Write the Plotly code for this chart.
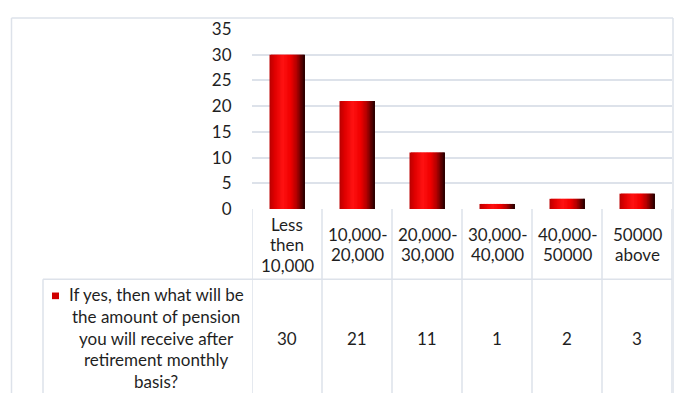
import plotly.graph_objects as go

# Pension amount categories and response counts
categories = [["Less", "then", "10,000"], ["10,000-", "20,000"], ["20,000-", "30,000"],
              ["30,000-", "40,000"], ["40,000-", "50000"], ["50000", "above"]]
counts = [30, 21, 11, 1, 2, 3]
series_name = ["If yes, then what will be", "the amount of pension",
               "you will receive after", "retirement monthly", "basis?"]
y_ticks = [0, 5, 10, 15, 20, 25, 30, 35]

W, H = 678, 403
FONT = "Lato"
TXT = "#1f1f1f"
GRID = "#dde2ea"


def px(x):
    return x / W


def py(y):
    return 1 - y / H


def hex_rgb(h):
    h = h.lstrip("#")
    return [int(h[i:i + 2], 16) for i in (0, 2, 4)]


def ramp(stops, n):
    """Colour ramp across the bar width, stops given as (position, hex)."""
    out = []
    for k in range(n):
        t = (k + 0.5) / n
        for (p0, c0), (p1, c1) in zip(stops[:-1], stops[1:]):
            if p0 <= t <= p1:
                f = (t - p0) / (p1 - p0)
                a, b = hex_rgb(c0), hex_rgb(c1)
                rgb = [round(a[j] + (b[j] - a[j]) * f) for j in range(3)]
                out.append("rgb({},{},{})".format(*rgb))
                break
    return out


x_idx = list(range(len(categories)))

# Cylinder-like shading: thin vertical slices, bright left of centre, dark at the right edge
stops = [(0.0, "#b80000"), (0.15, "#e00000"), (0.38, "#ff1212"), (0.6, "#f00000"),
         (0.78, "#b00000"), (0.9, "#600000"), (1.0, "#250000")]
n = 24
shade = ramp(stops, n)
bar_w = 0.5
slice_w = bar_w / n

fig = go.Figure()
for k, col in enumerate(shade):
    fig.add_trace(go.Bar(
        x=x_idx, y=counts,
        width=slice_w * (2.0 if k < n - 1 else 1.0),
        offset=-bar_w / 2 + k * slice_w,
        marker=dict(color=col, line=dict(width=0)),
        showlegend=False, hoverinfo="skip",
    ))

fig.update_layout(
    width=W, height=H,
    margin=dict(l=0, r=0, t=0, b=0),
    paper_bgcolor="white", plot_bgcolor="white",
    barmode="overlay",
    font=dict(family=FONT, size=17, color=TXT),
    xaxis=dict(domain=[px(252), px(672)], range=[-0.5, len(categories) - 0.5],
               showticklabels=False, showgrid=False, zeroline=False, showline=False,
               fixedrange=True),
    # invisible outside ticks push the labels away from the plot edge
    yaxis=dict(domain=[py(209), py(19)], range=[0, 35], tickvals=y_ticks,
               showgrid=True, gridcolor=GRID, gridwidth=1.5, zeroline=False,
               showline=False, ticks="outside", ticklen=16, tickcolor="rgba(0,0,0,0)",
               tickfont=dict(family=FONT, size=17, color=TXT), fixedrange=True),
)

line = dict(color=GRID, width=1.5)
shapes = []
# outer chart border
shapes.append(dict(type="line", xref="paper", yref="paper", x0=px(11.5), x1=px(673),
                   y0=py(7.5), y1=py(7.5), line=line))
shapes.append(dict(type="line", xref="paper", yref="paper", x0=px(11.5), x1=px(11.5),
                   y0=py(7.5), y1=0, line=line))
shapes.append(dict(type="line", xref="paper", yref="paper", x0=px(673), x1=px(673),
                   y0=py(7.5), y1=0, line=line))
# data table grid
for i in range(len(categories) + 1):
    shapes.append(dict(type="line", xref="x", yref="paper", x0=i - 0.5, x1=i - 0.5,
                       y0=0, y1=py(209), line=line))
shapes.append(dict(type="line", xref="paper", yref="paper", x0=px(43), x1=px(672),
                   y0=py(283), y1=py(283), line=line))
shapes.append(dict(type="line", xref="paper", yref="paper", x0=px(43), x1=px(43),
                   y0=py(283), y1=0, line=line))
# legend key
shapes.append(dict(type="rect", xref="paper", yref="paper", x0=px(52), x1=px(59),
                   y0=py(304), y1=py(297), fillcolor="#d00000",
                   line=dict(width=0)))
fig.update_layout(shapes=shapes)

ann = []
HEAD_MID, HEAD_STEP = 246.5, 21.5
for i, (cat, v) in enumerate(zip(categories, counts)):
    top = HEAD_MID - HEAD_STEP * (len(cat) - 1) / 2
    for j, part in enumerate(cat):
        ann.append(dict(x=i, y=py(top + j * HEAD_STEP), xref="x", yref="paper", text=part,
                        showarrow=False, xanchor="center", yanchor="middle",
                        font=dict(family=FONT, size=17, color=TXT)))
    ann.append(dict(x=i, y=py(346), xref="x", yref="paper", text=str(v), showarrow=False,
                    xanchor="center", yanchor="middle",
                    font=dict(family=FONT, size=17, color=TXT)))
LEG_MID, LEG_STEP = 345, 23
top = LEG_MID - LEG_STEP * (len(series_name) - 1) / 2
for j, part in enumerate(series_name):
    ann.append(dict(x=px(156), y=py(top + j * LEG_STEP), xref="paper", yref="paper",
                    text=part, showarrow=False, xanchor="center", yanchor="middle",
                    font=dict(family=FONT, size=17, color=TXT)))
fig.update_layout(annotations=ann)

fig.write_html("out.html")
